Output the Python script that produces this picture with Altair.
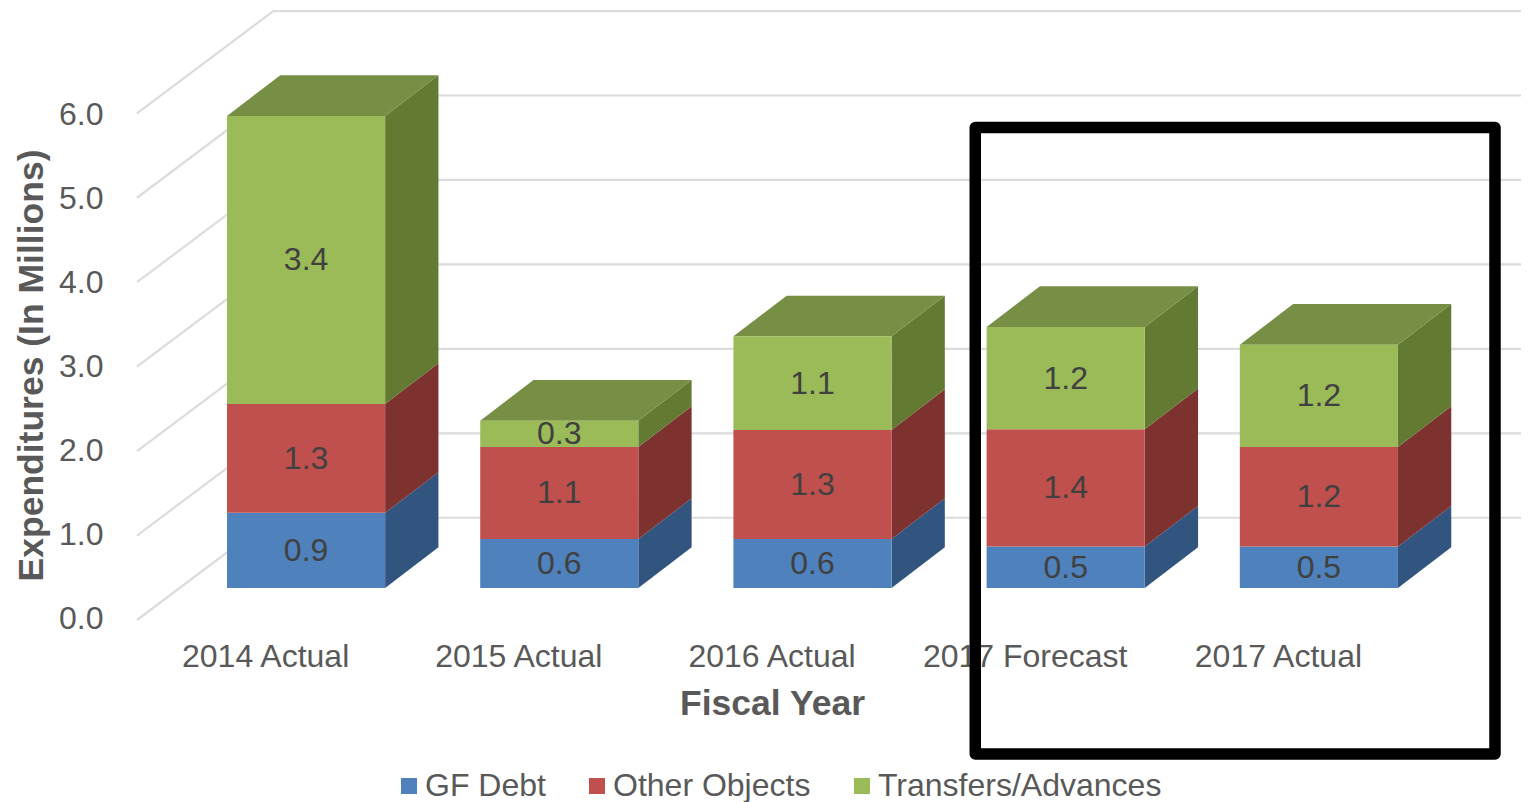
import altair as alt
import pandas as pd

years = ["2014 Actual", "2015 Actual", "2016 Actual", "2017 Forecast", "2017 Actual"]
series = ["GF Debt", "Other Objects", "Transfers/Advances"]
gf_debt = [0.89, 0.58, 0.58, 0.49, 0.49]
other_objects = [1.29, 1.09, 1.29, 1.39, 1.18]
transfers = [3.41, 0.31, 1.11, 1.21, 1.21]
ticks = [0, 1, 2, 3, 4, 5, 6]

front_colors = ["#4F81BD", "#C0504D", "#9BBB59"]
side_colors = ["#31557F", "#7D3230", "#637A33"]
top_color = "#778E45"
grid_color = "#DCDCDC"
text_color = "#595959"
label_color = "#404040"
font = "Liberation Sans"

# projection of the pseudo-3D scene, in scale units
SLOT = 253.2        # px per category slot
UNIT = 84.45        # px per 1.0 of value
W, H = 1384, 609
x_max, y_max = W / SLOT, H / UNIT
wall_dx, wall_dy = 0.5385, 1.211
bar_left, bar_w = 0.3555, 0.6245
bar_dx, bar_dy = 0.2105, 0.482
base = 0.379

fronts, sides, tops, labels = [], [], [], []
for i, year in enumerate(years):
    x0 = i + bar_left
    x1 = x0 + bar_w
    cum = base
    for s, vals in zip(series, [gf_debt, other_objects, transfers]):
        v = vals[i]
        fronts.append(dict(series=s, x=x0, x2=x1, y=cum, y2=cum + v))
        labels.append(dict(x=(x0 + x1) / 2, y=cum + v / 2, text=f"{v:.1f}"))
        sides.append(dict(id=f"{i}{s}", series=s, x=x1, y=cum, y2=cum + v))
        sides.append(dict(id=f"{i}{s}", series=s, x=x1 + bar_dx, y=cum + bar_dy, y2=cum + v + bar_dy))
        cum += v
    tops.append(dict(id=i, y=cum, x=x0, x2=x1))
    tops.append(dict(id=i, y=cum + bar_dy, x=x0 + bar_dx, x2=x1 + bar_dx))

grid = []
for t in ticks:
    grid.append(dict(t=t, x=0, y=t))
    grid.append(dict(t=t, x=wall_dx, y=t + wall_dy))
    grid.append(dict(t=t, x=x_max, y=t + wall_dy))

xs = alt.Scale(domain=[0, x_max], nice=False, zero=False)
ys = alt.Scale(domain=[0, y_max], nice=False, zero=False)

label_expr = "[" + ",".join(f"'{y}'" for y in years) + "][floor(datum.value)]"
X = alt.X("x:Q", scale=xs, axis=alt.Axis(
    values=[i + 0.506 for i in range(5)], labelExpr=label_expr, grid=False, ticks=False,
    domain=False, labelFontSize=32, labelFont=font, labelColor=text_color, labelPadding=21,
    labelOverlap=False, labelFlush=False, labelLimit=400,
    title="Fiscal Year", titleFont=font, titleFontSize=35.5, titleFontWeight="bold",
    titleColor=text_color, titleX=635, titleY=66, titleAnchor="middle", titleAlign="center"))
Y = alt.Y("y:Q", scale=ys, axis=alt.Axis(
    values=[t * 84 / UNIT for t in ticks], labelExpr="format(round(datum.value), '.1f')",
    grid=False, ticks=False, domain=False, labelFontSize=32,
    labelFont=font, labelColor=text_color, labelPadding=34, labelOffset=-1.5,
    title="Expenditures (In Millions)", titleFont=font, titleFontSize=35.5, titleFontWeight="bold",
    titleColor=text_color, titleX=-88, titleY=354, titleAlign="center"))

layers = [
    alt.Chart(pd.DataFrame(grid)).mark_line(color=grid_color, strokeWidth=2.2).encode(x=X, y=Y, detail="t:N")
]
sdf = pd.DataFrame(sides)
for s, c in zip(series, side_colors):
    layers.append(
        alt.Chart(sdf[sdf.series == s]).mark_area(color=c, opacity=1, line=False).encode(
            x=alt.X("x:Q", scale=xs), y=alt.Y("y:Q", scale=ys, stack=None), y2="y2:Q", detail="id:N")
    )
layers.append(
    alt.Chart(pd.DataFrame(tops)).mark_area(color=top_color, orient="horizontal").encode(
        y=alt.Y("y:Q", scale=ys), x=alt.X("x:Q", scale=xs, stack=None), x2="x2:Q", detail="id:N")
)
layers.append(
    alt.Chart(pd.DataFrame(fronts)).mark_rect().encode(
        x=alt.X("x:Q", scale=xs), x2="x2:Q", y=alt.Y("y:Q", scale=ys), y2="y2:Q",
        color=alt.Color("series:N", scale=alt.Scale(domain=series, range=front_colors), legend=alt.Legend(
            title=None, orient="none", direction="horizontal", columns=3, legendX=256, legendY=759,
            padding=0, symbolType="square", symbolSize=256, symbolStrokeWidth=0, labelFont=font,
            labelFontSize=32, labelColor=text_color, labelLimit=500, columnPadding=35, labelOffset=0)))
)
layers.append(
    alt.Chart(pd.DataFrame(labels)).mark_text(font=font, fontSize=32, color=label_color, dy=0.5).encode(
        x=alt.X("x:Q", scale=xs), y=alt.Y("y:Q", scale=ys), text="text:N")
)
# black highlight box around the 2017 bars
box = pd.DataFrame([dict(x=(975.25 - 137) / SLOT, x2=(1495 - 137) / SLOT,
                         y=(620 - 754) / UNIT, y2=(620 - 127.5) / UNIT)])
layers.append(
    alt.Chart(box).mark_rect(fillOpacity=0, stroke="black", strokeWidth=11.5, strokeJoin="round").encode(
        x=alt.X("x:Q", scale=xs), x2="x2:Q", y=alt.Y("y:Q", scale=ys), y2="y2:Q")
)

chart = alt.layer(*layers).properties(
    width=W, height=H,
    padding={"left": 129, "top": 3, "right": 0, "bottom": 182},
    autosize=alt.AutoSizeParams(type="none"),
    background="white",
).configure_view(stroke=None)

chart.save("out.html", embed_options={"renderer": "svg", "actions": False})
